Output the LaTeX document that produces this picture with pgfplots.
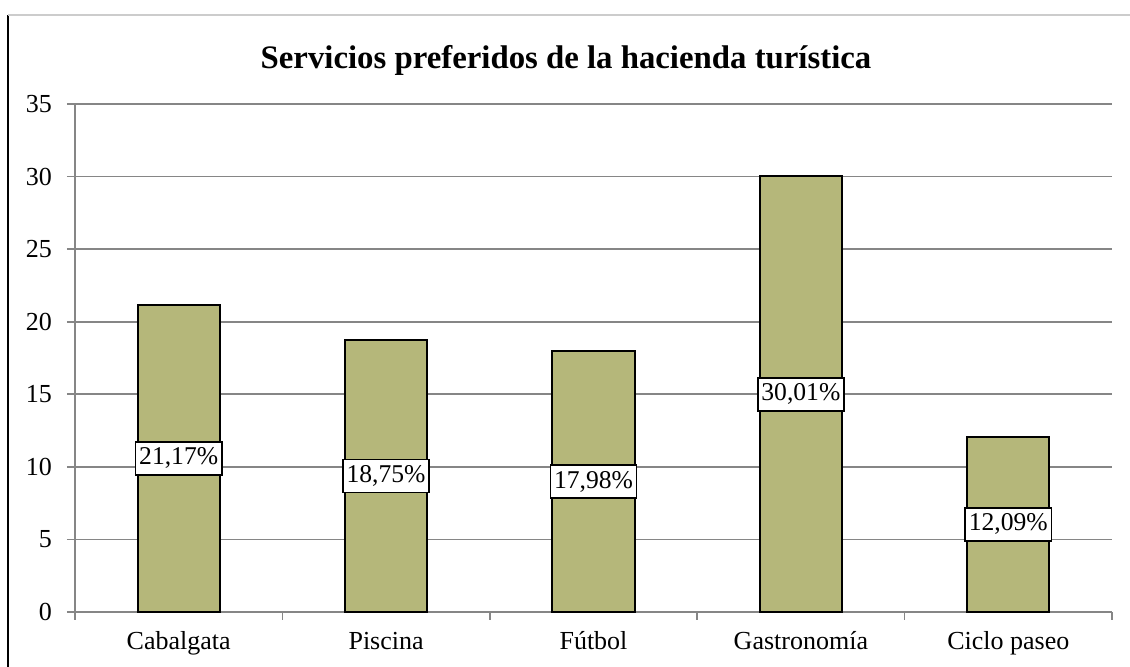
\documentclass[border=0pt]{standalone}
\usepackage{pgfplots}
\pgfplotsset{compat=1.18}
\usepackage{fontspec}
\setmainfont{Liberation Serif}
\definecolor{barfill}{RGB}{181,183,122}
\definecolor{gridgray}{RGB}{134,134,134}
\begin{document}
\begin{tikzpicture}
\path[use as bounding box] (-37.5pt,-27.5pt) rectangle (527.5pt,306pt);
\begin{axis}[
    scale only axis,
    width=518.5pt, height=254pt,
    xmin=0, xmax=5, ymin=0, ymax=35,
    axis x line*=bottom, axis y line*=left,
    axis line style={gridgray, line width=0.8pt},
    xtick={0,...,5},
    xticklabels={Cabalgata,Piscina,Fútbol,Gastronomía,Ciclo paseo},
    x tick label as interval,
    ytick={0,5,...,35},
    ymajorgrids,
    grid style={gridgray, line width=0.8pt},
    tick style={gridgray, line width=0.8pt},
    tick align=outside, major tick length=4pt,
    tick label style={font=\fontsize{13}{15}\selectfont, black},
    /pgf/number format/assume math mode=true,
    yticklabel style={xshift=-4pt},
    xticklabel style={yshift=-2pt, text height=9pt, text depth=3pt},
    clip=false,
]
    % bars
    \addplot[ybar, bar width=41pt, fill=barfill, draw=black, line width=1pt]
        coordinates {(0.5,21.17) (1.5,18.75) (2.5,17.98) (3.5,30.01) (4.5,12.09)};

    % percentage labels, centred at half the bar height
    \addplot[draw=none, mark=none, nodes near coords, point meta=explicit symbolic,
        nodes near coords style={anchor=center, fill=white, draw=black, line width=0.8pt,
            font=\fontsize{12.8}{14}\selectfont, inner xsep=1.8pt,
            text height=9pt, text depth=2.5pt, inner ysep=2.5pt}]
        coordinates {(0.5,10.585)[{21,17\%}] (1.5,9.375)[{18,75\%}] (2.5,8.99)[{17,98\%}]
                     (3.5,15.005)[{30,01\%}] (4.5,6.045)[{12,09\%}]};
\end{axis}
\draw[black, line width=1pt] (-33.25pt,-27.5pt) -- (-33.25pt,298.5pt);
\draw[black!20, line width=0.8pt] (-33.25pt,298.5pt) -- (527.5pt,298.5pt);
\node[font=\fontsize{16.4}{19}\selectfont\bfseries] at (245.5pt,276pt)
    {Servicios preferidos de la hacienda turística};
\end{tikzpicture}
\end{document}
